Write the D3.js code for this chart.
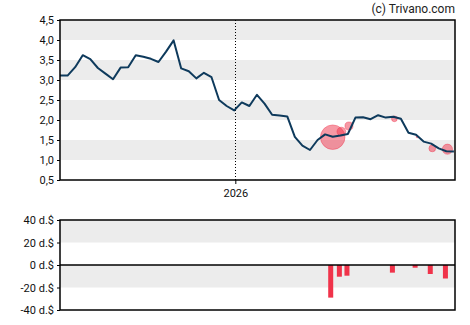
<!DOCTYPE html>
<html lang="en">
<head>
<meta charset="utf-8">
<title>price chart</title>
<script src="https://d3js.org/d3.v7.min.js"></script>
<style type="text/css">
  body { margin: 0; background: #fff; }
  .priceline { fill: none; stroke: #0e3a5c; stroke-width: 2px; stroke-linejoin: round; }
  .tick text { font-family: Roboto, "Liberation Sans", sans-serif; font-size: 11px; fill: #111; }
</style>
</head>
<body>
<script type="text/javascript">

// data
var startDate = "2025-07-23";   // first weekly close
var endDate = "2026-07-23";
var prices = [3.11, 3.11, 3.32, 3.62, 3.52, 3.30, 3.16, 3.02, 3.31, 3.32,
              3.62, 3.58, 3.53, 3.45, 3.71, 3.99, 3.29, 3.22, 3.04, 3.18,
              3.07, 2.50, 2.35, 2.24, 2.44, 2.35, 2.63, 2.41, 2.13, 2.11,
              2.09, 1.58, 1.36, 1.25, 1.50, 1.64, 1.58, 1.61, 1.65, 2.06,
              2.07, 2.02, 2.12, 2.06, 2.08, 2.03, 1.68, 1.63, 1.46, 1.41,
              1.29, 1.22, 1.21];

var tradeDates = ["2026-04-01", "2026-04-09", "2026-04-16", "2026-05-28",
                  "2026-06-18", "2026-07-02", "2026-07-16"];
var tradePrices = [1.57, 1.71, 1.85, 2.03, 1.58, 1.29, 1.27];
var tradeAmounts = [-29, -10.4, -9.5, -6.8, -2.4, -8, -12];   // d.$

var priceTicks = [0.5, 1.0, 1.5, 2.0, 2.5, 3.0, 3.5, 4.0, 4.5];
var amountTicks = [-40, -20, 0, 20, 40];
var yearTicks = ["2026-01-01"];

var w = 470, h = 325;
var left = 60, right = 455;
var top1 = 20, bottom1 = 180;
var top2 = 220, bottom2 = 310;

var parse = d3.timeParse("%Y-%m-%d");
var t0 = parse(startDate);
var series = prices.map((p, i) => [d3.timeDay.offset(t0, 7 * i), p]);
var trades = tradeDates.map((d, i) => ({date: parse(d), price: tradePrices[i], amount: tradeAmounts[i]}));

var svg = d3.select("body").append("svg")
            .attr("width", w)
            .attr("height", h);

var xScale = d3.scaleTime()
               .domain([t0, parse(endDate)])
               .range([left, right]);

var yScale = d3.scaleLinear()
               .domain([0.5, 4.5])
               .range([bottom1, top1]);

var y2Scale = d3.scaleLinear()
                .domain([-40, 40])
                .range([bottom2, top2]);

var rScale = d3.scaleLinear()
               .domain([0, 30])
               .range([0, 12.7]);

// grey bands
var bands1 = [[4.0, 4.5], [3.0, 3.5], [2.0, 2.5], [1.0, 1.5]];
svg.selectAll("rect.band1").data(bands1).enter()
   .append("rect")
   .attr("x", left).attr("width", right - left)
   .attr("y", d => yScale(d[1]))
   .attr("height", d => yScale(d[0]) - yScale(d[1]))
   .attr("fill", "#ececec");

var bands2 = [[20, 40], [-20, 0]];
svg.selectAll("rect.band2").data(bands2).enter()
   .append("rect")
   .attr("x", left).attr("width", right - left)
   .attr("y", d => y2Scale(d[1]))
   .attr("height", d => y2Scale(d[0]) - y2Scale(d[1]))
   .attr("fill", "#ececec");

// year marker
yearTicks.forEach(function(t){
  svg.append("line")
     .attr("x1", Math.round(xScale(parse(t))) + 0.5)
     .attr("x2", Math.round(xScale(parse(t))) + 0.5)
     .attr("y1", top1).attr("y2", bottom1)
     .attr("stroke", "#000")
     .attr("stroke-dasharray", "1,2");
});

// bubbles for trades
svg.selectAll("circle.trade").data(trades).enter()
   .append("circle")
   .attr("cx", d => xScale(d.date))
   .attr("cy", d => yScale(d.price))
   .attr("r", d => rScale(Math.abs(d.amount)))
   .attr("fill", "#f0334c")
   .attr("fill-opacity", 0.5)
   .attr("stroke", "#f0334c")
   .attr("stroke-opacity", 0.4);

// price line
var lineGen = d3.line()
                .x(d => xScale(d[0]))
                .y(d => yScale(d[1]));

svg.append("path")
   .datum(series)
   .attr("class", "priceline")
   .attr("d", lineGen);

// bars
svg.selectAll("rect.bar").data(trades).enter()
   .append("rect")
   .attr("x", d => xScale(d.date) - 4.5)
   .attr("width", 5)
   .attr("y", d => y2Scale(Math.max(0, d.amount)))
   .attr("height", d => Math.abs(y2Scale(d.amount) - y2Scale(0)))
   .attr("fill", "#f0334a");

// axes
var yAxis = d3.axisLeft(yScale)
              .tickValues(priceTicks)
              .tickSize(3)
              .tickFormat(d => d3.format(".1f")(d).replace(".", ","));
svg.append("g")
   .attr("transform", `translate(${left},0)`)
   .call(yAxis)
   .call(g => g.select(".domain").remove());

var y2Axis = d3.axisLeft(y2Scale)
               .tickValues(amountTicks)
               .tickSize(3)
               .tickFormat(d => d + " d.$");
svg.append("g")
   .attr("transform", `translate(${left},0)`)
   .call(y2Axis)
   .call(g => g.select(".domain").remove());

var xAxis = d3.axisBottom(xScale)
              .tickValues(yearTicks.map(parse))
              .tickSize(4)
              .tickFormat(d3.timeFormat("%Y"));
svg.append("g")
   .attr("transform", `translate(0,${bottom1})`)
   .call(xAxis)
   .call(g => g.select(".domain").remove())
   .call(g => g.selectAll("text").attr("dy", "0.95em"));

// frames
svg.append("rect")
   .attr("x", left).attr("y", top1)
   .attr("width", right - left).attr("height", bottom1 - top1)
   .attr("fill", "none").attr("stroke", "#000").attr("stroke-width", 1.5);

svg.append("rect")
   .attr("x", left).attr("y", top2)
   .attr("width", right - left).attr("height", bottom2 - top2)
   .attr("fill", "none").attr("stroke", "#000").attr("stroke-width", 1.5);

svg.append("line")
   .attr("x1", left).attr("x2", right)
   .attr("y1", y2Scale(0)).attr("y2", y2Scale(0))
   .attr("stroke", "#000").attr("stroke-width", 1.5);

// copyright
svg.append("text")
   .attr("x", right)
   .attr("y", 13)
   .attr("text-anchor", "end")
   .attr("font-family", "Roboto, sans-serif")
   .attr("font-size", "12px")
   .attr("fill", "#222")
   .text("(c) Trivano.com");

</script>
</body>
</html>
